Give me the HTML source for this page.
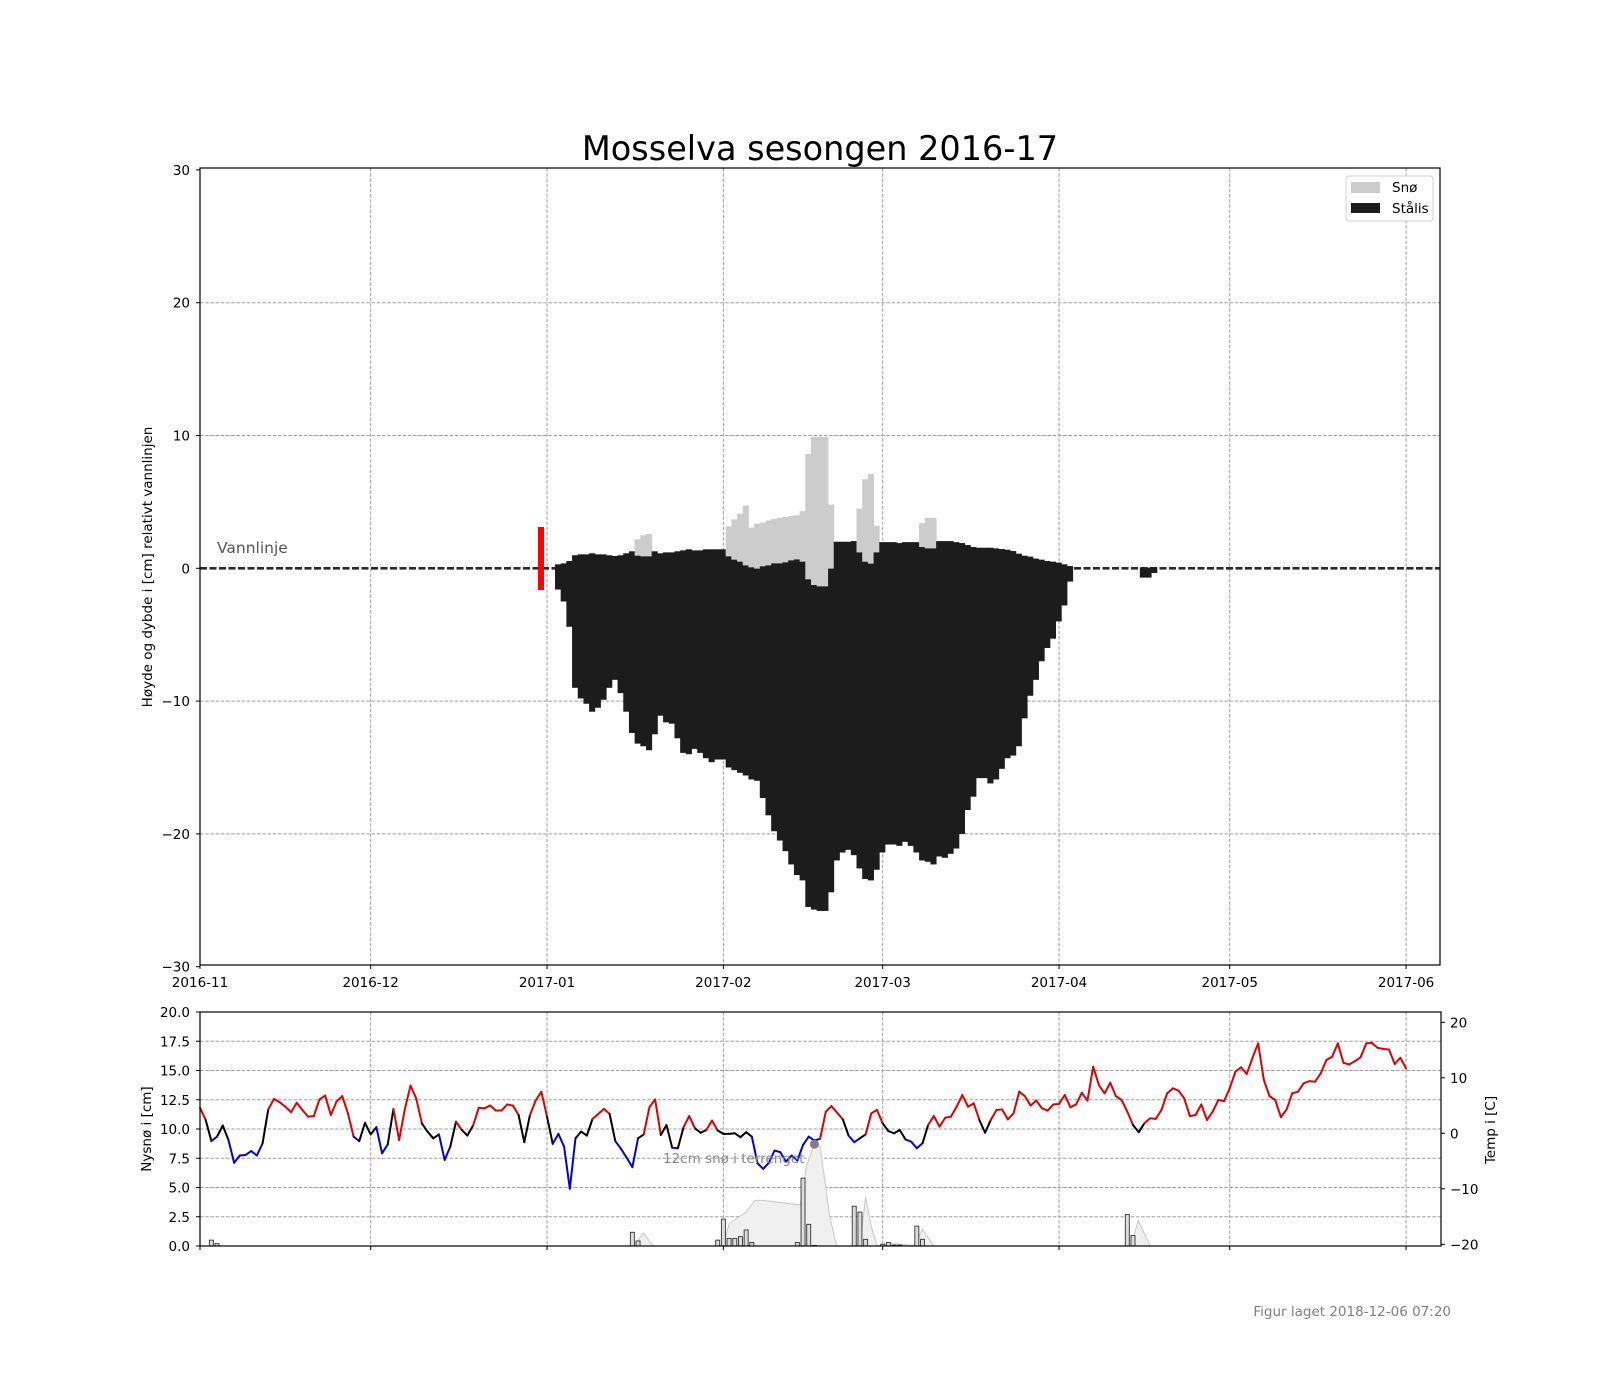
<!DOCTYPE html>
<html><head><meta charset="utf-8"><title>Mosselva sesongen 2016-17</title>
<style>
html,body{margin:0;padding:0;background:#fff;}
svg{display:block;font-family:"DejaVu Sans","Liberation Sans",sans-serif;}
</style></head>
<body>
<svg id="chart" width="1600" height="1400" viewBox="0 0 1600 1400" xmlns="http://www.w3.org/2000/svg">
<rect width="1600" height="1400" fill="#fff"/>
<text x="820" y="160" font-size="33.5" text-anchor="middle" fill="#000">Mosselva sesongen 2016-17</text>
<g id="main"></g>
<g id="bottom"></g>
<text transform="translate(152,567) rotate(-90)" font-size="13.5" text-anchor="middle">Høyde og dybde i [cm] relativt vannlinjen</text>
<text transform="translate(151,1129) rotate(-90)" font-size="13.5" text-anchor="middle">Nysnø i [cm]</text>
<text transform="translate(1495,1130) rotate(-90)" font-size="13.5" text-anchor="middle">Temp i [C]</text>
<text x="1451" y="1316" font-size="13.5" text-anchor="end" fill="#808080">Figur laget 2018-12-06 07:20</text>
</svg>
<script>
// ---- data ----
const monthLabels = ["2016-11","2016-12","2017-01","2017-02","2017-03","2017-04","2017-05","2017-06"];
const monthDays = [0,30,61,92,120,151,181,212];
const mainYTicks = [-30,-20,-10,0,10,20,30];
const snowYTicks = [0,2.5,5,7.5,10,12.5,15,17.5,20];
const tempYTicks = [-20,-10,0,10,20];

const iceStartDay = 62.4;
const iceTop = [0.30,0.37,0.55,0.98,1.05,1.05,1.13,1.05,1.05,0.98,0.93,0.98,1.13,1.28,0.95,0.90,0.90,1.28,1.13,1.2,1.2,1.28,1.35,1.43,1.35,1.35,1.43,1.43,1.43,1.43,0.90,0.65,0.50,0.22,0.07,-0.03,0.15,0.22,0.37,0.37,0.45,0.60,0.67,0.5,-0.83,-1.26,-1.36,-1.36,-0.03,2.0,2.0,2.0,2.05,1.2,0.5,0.35,1.2,1.97,1.97,1.97,1.9,1.97,1.97,1.97,1.6,1.5,1.5,2.05,2.05,2.05,1.97,1.9,1.75,1.6,1.55,1.55,1.55,1.5,1.45,1.4,1.3,1.1,0.95,0.88,0.73,0.65,0.55,0.5,0.43,0.3,0.17];
const iceBottom = [-1.6,-2.5,-4.4,-9.0,-9.8,-10.2,-10.8,-10.5,-9.9,-9.0,-8.4,-9.4,-10.8,-12.4,-13.2,-13.4,-13.7,-12.5,-11.1,-11.6,-11.7,-12.8,-13.9,-14.0,-13.6,-13.9,-14.3,-14.6,-14.4,-14.4,-15.0,-15.2,-15.4,-15.6,-15.9,-16.0,-17.3,-18.6,-19.8,-20.5,-21.3,-22.3,-23.1,-23.5,-25.5,-25.7,-25.8,-25.8,-24.4,-22.0,-21.4,-21.2,-21.6,-22.6,-23.4,-23.5,-22.7,-21.4,-20.8,-20.8,-20.9,-20.6,-20.9,-21.4,-22.0,-22.1,-22.3,-21.7,-21.8,-21.5,-21.1,-20.0,-18.2,-17.2,-15.8,-15.8,-16.2,-15.9,-15.1,-14.3,-14.1,-13.4,-11.3,-9.6,-8.4,-7.0,-6.0,-5.3,-4.0,-2.8,-1.0];
const snowTop = {14:2.18,15:2.48,16:2.58,30:3.16,31:3.69,32:4.11,33:4.72,34:3.06,35:3.36,36:3.44,37:3.61,38:3.71,39:3.79,40:3.86,41:3.94,42:3.99,43:4.3,44:8.6,45:9.9,46:9.9,47:9.9,48:4.8,53:4.5,54:6.7,55:7.1,56:3.2,64:3.4,65:3.8,66:3.8};
const lateIceDays = [165.2,166.2,167.2];
const lateIceBottom = [-0.7,-0.7,-0.35];

const tempValues = [4.6,2.4,-1.4,-0.6,1.4,-1.2,-5.3,-4.0,-3.9,-3.2,
-4.0,-1.8,4.3,6.2,5.6,4.8,3.8,5.5,4.2,3.0,
3.1,6.1,6.8,3.3,5.7,6.7,3.6,-0.6,-1.4,1.9,
-0.2,1.1,-3.6,-2.0,4.4,-1.2,4.3,8.6,6.3,1.8,
0.3,-0.9,-0.2,-4.8,-2.4,2.1,0.6,-0.4,1.4,4.6,
4.5,5.0,4.1,4.1,5.2,5.0,3.3,-1.6,3.3,5.9,
7.5,3.0,-1.9,-0.1,-2.4,-10.0,-0.9,0.3,-0.4,2.6,
3.5,4.4,3.5,-1.4,-2.8,-4.4,-6.1,-0.9,-0.2,4.7,
6.1,-0.3,1.5,-2.6,-2.7,1.1,3.1,0.9,0.1,0.6,
2.3,0.5,-0.1,-0.1,0,-0.7,0.2,-0.6,-5.4,-6.4,
-5.3,-3.1,-3.4,-5.1,-4.0,-4.9,-2.1,-0.6,-1.3,-1.0,
3.9,4.9,3.7,2.5,-0.4,-1.6,-0.9,-0.2,3.6,4.2,
1.8,0.4,0,0.6,-1.1,-1.5,-2.7,-1.8,1.5,3.1,
1.2,2.8,3.0,4.8,6.9,4.8,5.4,2.4,0.1,2.4,
4.2,4.3,2.5,3.6,7.5,6.7,5.0,5.9,4.5,4.1,
5.2,5.3,6.9,4.7,5.2,7.3,5.9,12.0,8.7,7.2,
9.1,6.7,6.0,3.9,1.5,0.2,1.8,2.7,2.6,4.2,
7.2,8.1,7.7,6.3,3.1,3.3,5.2,2.4,3.9,6.0,
5.8,8.1,11.1,11.9,10.7,13.6,16.2,9.6,6.7,6.0,
2.9,4.3,7.2,7.5,9.0,9.4,9.3,10.8,13.2,13.8,
16.2,12.7,12.4,13.0,13.7,16.2,16.3,15.4,15.2,15.1,
12.5,13.6,11.7];

const newSnowDays = [2,3,76,77,91,92,93,94,95,96,97,105,106,107,108,115,116,117,120,121,122,123,126,127,163,164];
const newSnowValues = [0.5,0.2,1.17,0.43,0.5,2.3,0.65,0.65,0.8,1.37,0.3,0.3,5.8,1.85,0.05,3.4,2.9,0.57,0.15,0.3,0.08,0.08,1.7,0.57,2.7,0.9];

const terrainDays = [75,76.1,77,77.9,79.7,92,93,96,97.5,99,105.5,106.6,108,109,110.7,111.9,116,117,118,119,120,121.6,125.5,127,129,163.7,164.9,167];
const terrainValues = [0,0,0.5,1.1,0,0,1.9,2.9,3.9,3.9,3.5,6.8,8.8,8.5,2.5,0,0,4.2,1.65,0,0.1,0.2,0.05,1.4,0,0,2.2,0];
const markerDay = 108, markerValue = 8.7;

// ---- scales ----
const X0 = 200, XR = 1440, PXD = 5.689;
const xs = d => X0 + d * PXD;
const ys = v => 568.3 - v * 13.28;
const yl = v => 1246 - v * 11.7;
const yr = t => 1133.3 - t * 5.55;
const NS = "http://www.w3.org/2000/svg";
function mk(parent, tag, attrs){
  const el = document.createElementNS(NS, tag);
  for (const k in attrs) el.setAttribute(k, attrs[k]);
  parent.appendChild(el);
  return el;
}
const main = document.getElementById('main');
const bot = document.getElementById('bottom');
const GRID = {stroke:"#a0a0a0","stroke-width":1,"stroke-dasharray":"3.5,1.7",fill:"none"};

// ---- main panel ----
monthDays.forEach((d,i)=>{
  const g = mk(main,'line',Object.assign({x1:xs(d),x2:xs(d),y1:168,y2:965},GRID));
  
  
  const t = mk(main,'line',{x1:xs(d),x2:xs(d),y1:965,y2:969,stroke:"#000"});
  
  
  const l = mk(main,'text',{x:xs(d),y:987,"font-size":13.5,"text-anchor":"middle"});
  l.textContent = monthLabels[i];
  
  
});
mainYTicks.forEach(v=>{
  if (v>-30 && v<30 && v!==0){
    const g = mk(main,'line',Object.assign({x1:X0,x2:XR,y1:ys(v),y2:ys(v)},GRID));
    
    
  }
  const t = mk(main,'line',{x1:196,x2:200,y1:ys(v),y2:ys(v),stroke:"#000"});
  
  
  const l = mk(main,'text',{x:190,y:ys(v)+5,"font-size":13.5,"text-anchor":"end"});
  l.textContent = v<0 ? "\u2212"+Math.abs(v) : String(v);
  
  
});
// water line
const wl = mk(main,'line',{x1:X0,x2:XR,y1:ys(0),y2:ys(0),stroke:"#2a2a2a","stroke-width":2.6,"stroke-dasharray":"7,2.5"});


const wt = mk(main,'text',{x:217,y:553,"font-size":15.5,fill:"#555"});
wt.textContent = "Vannlinje";


// ice bars
iceTop.forEach((top,i)=>{
  const d0 = iceStartDay + i;
  const x = xs(d0), w = PXD + 0.4;
  const st = snowTop[i];
  if (st !== undefined){
    const s = mk(main,'rect',{x:x,y:ys(st),width:w,height:ys(top)-ys(st),fill:"#cccccc"});
    
    
  }
  const b = mk(main,'rect',{x:x,y:ys(top),width:w,height:ys(iceBottom[i])-ys(top),fill:"#1c1c1c"});
  
  
});
lateIceDays.forEach((d,i)=>{
  const b = mk(main,'rect',{x:xs(d),y:ys(0.05),width:PXD+0.4,height:ys(lateIceBottom[i])-ys(0.05),fill:"#1c1c1c"});
  
  
});
const rb = mk(main,'rect',{x:538,y:527,width:6,height:63,fill:"#ff0000"});


const mf = mk(main,'rect',{x:X0,y:168,width:XR-X0,height:797,fill:"none",stroke:"#000","stroke-width":1.2});


// legend
const lg = mk(main,'g',{});


mk(lg,'rect',{x:1346,y:176,width:87,height:45,rx:3,fill:"#fff",stroke:"#d0d0d0"});
const p1 = mk(lg,'rect',{x:1351,y:182,width:29,height:11,fill:"#cccccc"});


const t1 = mk(lg,'text',{x:1392,y:192,"font-size":13.5}); t1.textContent="Snø";
const p2 = mk(lg,'rect',{x:1351,y:203,width:29,height:10,fill:"#1c1c1c"});


const t2 = mk(lg,'text',{x:1392,y:213,"font-size":13.5}); t2.textContent="Stålis";

// ---- bottom panel ----
monthDays.forEach(d=>{
  const g = mk(bot,'line',Object.assign({x1:xs(d),x2:xs(d),y1:1012,y2:1246},GRID));
  
  
  const t = mk(bot,'line',{x1:xs(d),x2:xs(d),y1:1246,y2:1250,stroke:"#000"});
  
  
});
snowYTicks.forEach(v=>{
  if (v>0 && v<20){
    const g = mk(bot,'line',Object.assign({x1:X0,x2:1441,y1:yl(v),y2:yl(v)},GRID));
    
    
  }
  mk(bot,'line',{x1:196,x2:200,y1:yl(v),y2:yl(v),stroke:"#000"});
  const l = mk(bot,'text',{x:190,y:yl(v)+5,"font-size":13.5,"text-anchor":"end"});
  l.textContent = v.toFixed(1);
  
  
});
tempYTicks.forEach(t=>{
  mk(bot,'line',{x1:1441,x2:1445,y1:yr(t),y2:yr(t),stroke:"#000"});
  const l = mk(bot,'text',{x:1450,y:yr(t)+5,"font-size":13.5});
  l.textContent = t<0 ? "\u2212"+Math.abs(t) : String(t);
  
  
});
// terrain snow area
let dstr = "M"+xs(terrainDays[0])+","+yl(0);
terrainDays.forEach((d,i)=>{ dstr += " L"+xs(d)+","+yl(terrainValues[i]); });
dstr += " L"+xs(terrainDays[terrainDays.length-1])+","+yl(0)+" Z";
const ta = mk(bot,'path',{d:dstr,fill:"#f0f0f0",stroke:"#c8c8c8","stroke-width":1});


// new snow bars
newSnowDays.forEach((d,i)=>{
  const h = yl(0)-yl(newSnowValues[i]);
  const b = mk(bot,'rect',{x:xs(d)-2,y:yl(newSnowValues[i]),width:4,height:h,fill:"#dddddd",stroke:"#333","stroke-width":0.9});
  
  
});
// temperature line
const tg = mk(bot,'g',{});


for (let i=0;i<tempValues.length-1;i++){
  const m = (tempValues[i]+tempValues[i+1])/2;
  const c = m>=1.3 ? "#e00000" : (m<=-0.9 ? "#0000e6" : "#000");
  const s = mk(tg,'line',{x1:xs(i),y1:yr(tempValues[i]),x2:xs(i+1),y2:yr(tempValues[i+1]),stroke:c,"stroke-width":2,"stroke-linecap":"round"});
  
  
}
const mc = mk(bot,'circle',{cx:xs(markerDay),cy:yl(markerValue),r:4.5,fill:"#808080"});


const mt = mk(bot,'text',{x:663,y:1163,"font-size":13.5,fill:"#888"});
mt.textContent = "12cm snø i terrenget";


const bf = mk(bot,'rect',{x:X0,y:1012,width:1241,height:234,fill:"none",stroke:"#000","stroke-width":1.2});


</script>
</body></html>
